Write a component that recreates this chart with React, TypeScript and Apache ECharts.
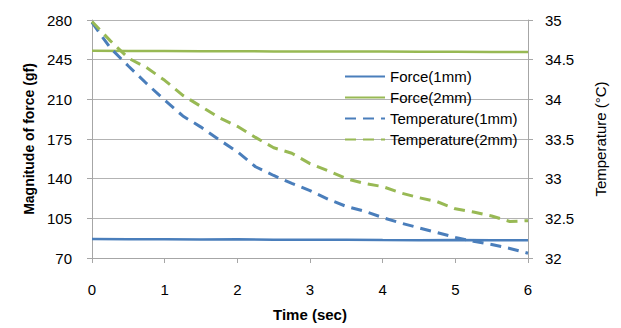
import React, { useEffect, useRef } from "react";
import * as echarts from "echarts";

const timeTemp = [0, 0.25, 0.5, 0.75, 1, 1.25, 1.5, 1.75, 2, 2.25, 2.5, 2.75, 3, 3.25, 3.5, 3.75, 4, 4.25, 4.5, 4.75, 5, 5.25, 5.5, 5.75, 6];
const temp1mm = [34.97, 34.65, 34.42, 34.2, 33.99, 33.79, 33.65, 33.49, 33.34, 33.15, 33.04, 32.94, 32.85, 32.74, 32.65, 32.59, 32.51, 32.44, 32.38, 32.32, 32.26, 32.21, 32.17, 32.12, 32.06];
const temp2mm = [34.98, 34.74, 34.52, 34.4, 34.24, 34.05, 33.91, 33.77, 33.66, 33.52, 33.39, 33.32, 33.19, 33.1, 33.0, 32.94, 32.9, 32.82, 32.76, 32.71, 32.62, 32.58, 32.53, 32.46, 32.47];

const timeForce = [0, 0.5, 1, 1.5, 2, 2.5, 3, 3.5, 4, 4.5, 5, 5.5, 6];
const force1mm = [86.8, 86.6, 86.5, 86.3, 86.5, 86.2, 86.0, 86.1, 85.8, 85.7, 85.8, 85.6, 85.6];
const force2mm = [252.8, 252.7, 252.6, 252.5, 252.5, 252.3, 252.3, 252.2, 252.1, 252.0, 251.9, 251.8, 251.8];

const xTicks = { min: 0, max: 6, interval: 1 };
const forceTicks = { min: 70, max: 280, interval: 35 };
const tempTicks = { min: 32, max: 35, interval: 0.5 };

const BLUE = "#4a7ebb";
const GREEN = "#98b954";
const FONT = "Liberation Sans, Arial, sans-serif";

const pairs = (xs: number[], ys: number[]) => xs.map((x, i) => [x, ys[i]]);

export default function App() {
  const ref = useRef<HTMLDivElement>(null);
  useEffect(() => {
    if (!ref.current) return;
    const chart = echarts.init(ref.current, null, { renderer: "svg" });
    const gridLine = { lineStyle: { color: "#b3b3b3", width: 1 } };
    chart.setOption({
      animation: false,
      textStyle: { fontFamily: FONT },
      grid: { left: 92, right: 93, top: 20, bottom: 70 },
      legend: {
        orient: "vertical",
        left: 339,
        top: 64,
        itemWidth: 40,
        itemHeight: 14,
        itemGap: 6,
        itemStyle: { opacity: 0 },
        textStyle: { fontSize: 15, color: "#000", fontFamily: FONT },
        data: ["Force(1mm)", "Force(2mm)", "Temperature(1mm)", "Temperature(2mm)"],
      },
      xAxis: {
        type: "value",
        ...xTicks,
        name: "Time (sec)",
        nameLocation: "middle",
        nameGap: 49,
        nameTextStyle: { fontSize: 15, fontWeight: "bold", color: "#000", fontFamily: FONT },
        axisLine: { show: true, lineStyle: { color: "#a6a6a6" } },
        axisTick: { show: true, length: 5, lineStyle: { color: "#a6a6a6" } },
        axisLabel: { fontSize: 15, color: "#000", margin: 24, fontFamily: FONT },
        splitLine: { show: false },
      },
      yAxis: [
        {
          type: "value",
          ...forceTicks,
          name: "Magnitude of force (gf)",
          nameLocation: "middle",
          nameGap: 56,
          nameTextStyle: { fontSize: 14, fontWeight: "bold", color: "#000", fontFamily: FONT },
          axisLine: { show: true, lineStyle: { color: "#a6a6a6" } },
          axisTick: { show: true, length: 5, lineStyle: { color: "#a6a6a6" } },
          axisLabel: { fontSize: 15, color: "#000", margin: 20, fontFamily: FONT },
          splitLine: { show: true, ...gridLine },
        },
        {
          type: "value",
          ...tempTicks,
          position: "right",
          name: "Temperature (°C)",
          nameLocation: "middle",
          nameGap: 65,
          nameTextStyle: { fontSize: 15, color: "#000", fontFamily: FONT },
          axisLine: { show: true, lineStyle: { color: "#a6a6a6" } },
          axisTick: { show: true, length: 5, lineStyle: { color: "#a6a6a6" } },
          axisLabel: { fontSize: 15, color: "#000", margin: 17, fontFamily: FONT },
          splitLine: { show: false },
        },
      ],
      series: [
        {
          name: "Force(1mm)",
          type: "line",
          yAxisIndex: 0,
          showSymbol: false,
          symbol: "none",
          data: pairs(timeForce, force1mm),
          lineStyle: { color: BLUE, width: 2.5 },
          itemStyle: { color: BLUE },
        },
        {
          name: "Force(2mm)",
          type: "line",
          yAxisIndex: 0,
          showSymbol: false,
          symbol: "none",
          data: pairs(timeForce, force2mm),
          lineStyle: { color: GREEN, width: 2.5 },
          itemStyle: { color: GREEN },
        },
        {
          name: "Temperature(1mm)",
          type: "line",
          yAxisIndex: 1,
          showSymbol: false,
          symbol: "none",
          data: pairs(timeTemp, temp1mm),
          lineStyle: { color: BLUE, width: 3, type: [11, 7] },
          itemStyle: { color: BLUE },
        },
        {
          name: "Temperature(2mm)",
          type: "line",
          yAxisIndex: 1,
          showSymbol: false,
          symbol: "none",
          data: pairs(timeTemp, temp2mm),
          lineStyle: { color: GREEN, width: 3, type: [11, 7] },
          itemStyle: { color: GREEN },
        },
      ],
    });
    return () => chart.dispose();
  }, []);
  return <div ref={ref} style={{ width: 621, height: 328, position: "absolute", left: 0, top: 0, background: "#fff" }} />;
}
